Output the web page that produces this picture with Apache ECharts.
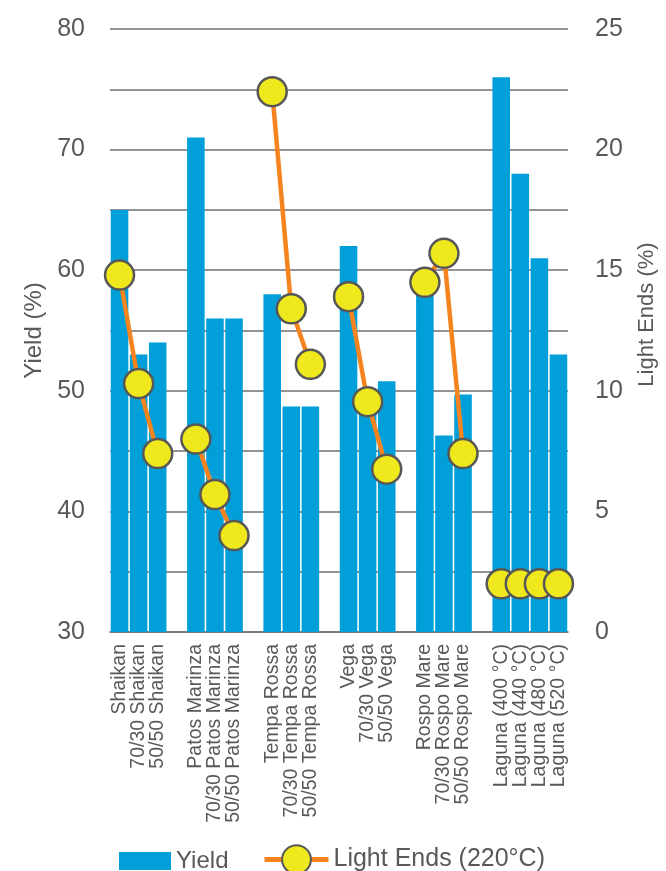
<!DOCTYPE html>
<html>
<head>
<meta charset="utf-8">
<script src="https://cdn.jsdelivr.net/npm/echarts@6/dist/echarts.min.js"></script>
<style>
  html, body { margin: 0; padding: 0; background: #fff; }
  #chart { width: 666px; height: 871px; }
</style>
</head>
<body>
<div id="chart"></div>
<script>
// empty strings are the spacer slots between crude groups
var categories = [
  'Shaikan', '70/30 Shaikan', '50/50 Shaikan', '',
  'Patos Marinza', '70/30 Patos Marinza', '50/50 Patos Marinza', '',
  'Tempa Rossa', '70/30 Tempa Rossa', '50/50 Tempa Rossa', '',
  'Vega', '70/30 Vega', '50/50 Vega', '',
  'Rospo Mare', '70/30 Rospo Mare', '50/50 Rospo Mare', '',
  'Laguna (400 °C)', 'Laguna (440 °C)', 'Laguna (480 °C)', 'Laguna (520 °C)'
];
var yieldValues = [
  65, 53, 54, null,
  71, 56, 56, null,
  58, 48.7, 48.7, null,
  62, 49, 50.8, null,
  59, 46.3, 49.7, null,
  76, 68, 61, 53
];
var lightEnds = [
  14.8, 10.3, 7.4, null,
  8.0, 5.7, 4.0, null,
  22.4, 13.4, 11.1, null,
  13.9, 9.55, 6.75, null,
  14.5, 15.7, 7.4, null,
  2.0, 2.0, 2.0, 2.0
];

var gray = '#595959';
var font = 'Liberation Sans';

var myChart = echarts.init(document.getElementById('chart'));
myChart.setOption({
  animation: false,
  textStyle: { fontFamily: font },
  grid: { left: 110, right: 96, top: 29, bottom: 239 },
  legend: [{
    data: ['Yield'],
    left: 119, bottom: -2, padding: 0,
    itemWidth: 52, itemHeight: 18, itemGap: 6,
    icon: 'rect',
    textStyle: { color: gray, fontSize: 24, fontFamily: font }
  }, {
    data: ['Light Ends (220°C)'],
    left: 262, bottom: -4, padding: 0,
    itemWidth: 64, itemHeight: 36, itemGap: 6,
    lineStyle: { width: 5 },
    textStyle: { color: gray, fontSize: 25, fontFamily: font }
  }],
  xAxis: {
    type: 'category',
    data: categories,
    axisTick: { show: false },
    axisLine: { lineStyle: { color: '#777', width: 1.5 } },
    axisLabel: {
      interval: 0, rotate: 90, margin: 12,
      color: gray, fontSize: 19.5, fontFamily: font
    }
  },
  yAxis: [{
    type: 'value',
    name: 'Yield (%)',
    nameLocation: 'middle', nameGap: 62, nameRotate: 90,
    nameTextStyle: { color: gray, fontSize: 24, fontFamily: font },
    min: 30, max: 80, interval: 5,
    axisLine: { show: false }, axisTick: { show: false },
    splitLine: { lineStyle: { color: '#6f6f6f', width: 1.5 } },
    axisLabel: {
      color: gray, fontSize: 25, margin: 25, fontFamily: font,
      formatter: function (v) { return v % 10 === 0 ? v : ''; }
    }
  }, {
    type: 'value',
    name: 'Light Ends (%)',
    nameLocation: 'middle', nameGap: 68, nameRotate: 90,
    nameTextStyle: { color: gray, fontSize: 22, fontFamily: font, padding: [0, 0, 0, 32] },
    min: 0, max: 25, interval: 5,
    axisLine: { show: false }, axisTick: { show: false },
    splitLine: { show: false },
    axisLabel: { color: gray, fontSize: 25, margin: 27, fontFamily: font }
  }],
  series: [{
    name: 'Yield',
    type: 'bar',
    data: yieldValues,
    barCategoryGap: '8%',
    itemStyle: { color: '#009fd9' }
  }, {
    name: 'Light Ends (220°C)',
    type: 'line',
    yAxisIndex: 1,
    data: lightEnds,
    symbol: 'circle',
    symbolSize: 29,
    lineStyle: { color: '#f5841f', width: 4.5 },
    itemStyle: { color: '#eee81c', borderColor: '#575757', borderWidth: 2.5 }
  }]
});
</script>
</body>
</html>
